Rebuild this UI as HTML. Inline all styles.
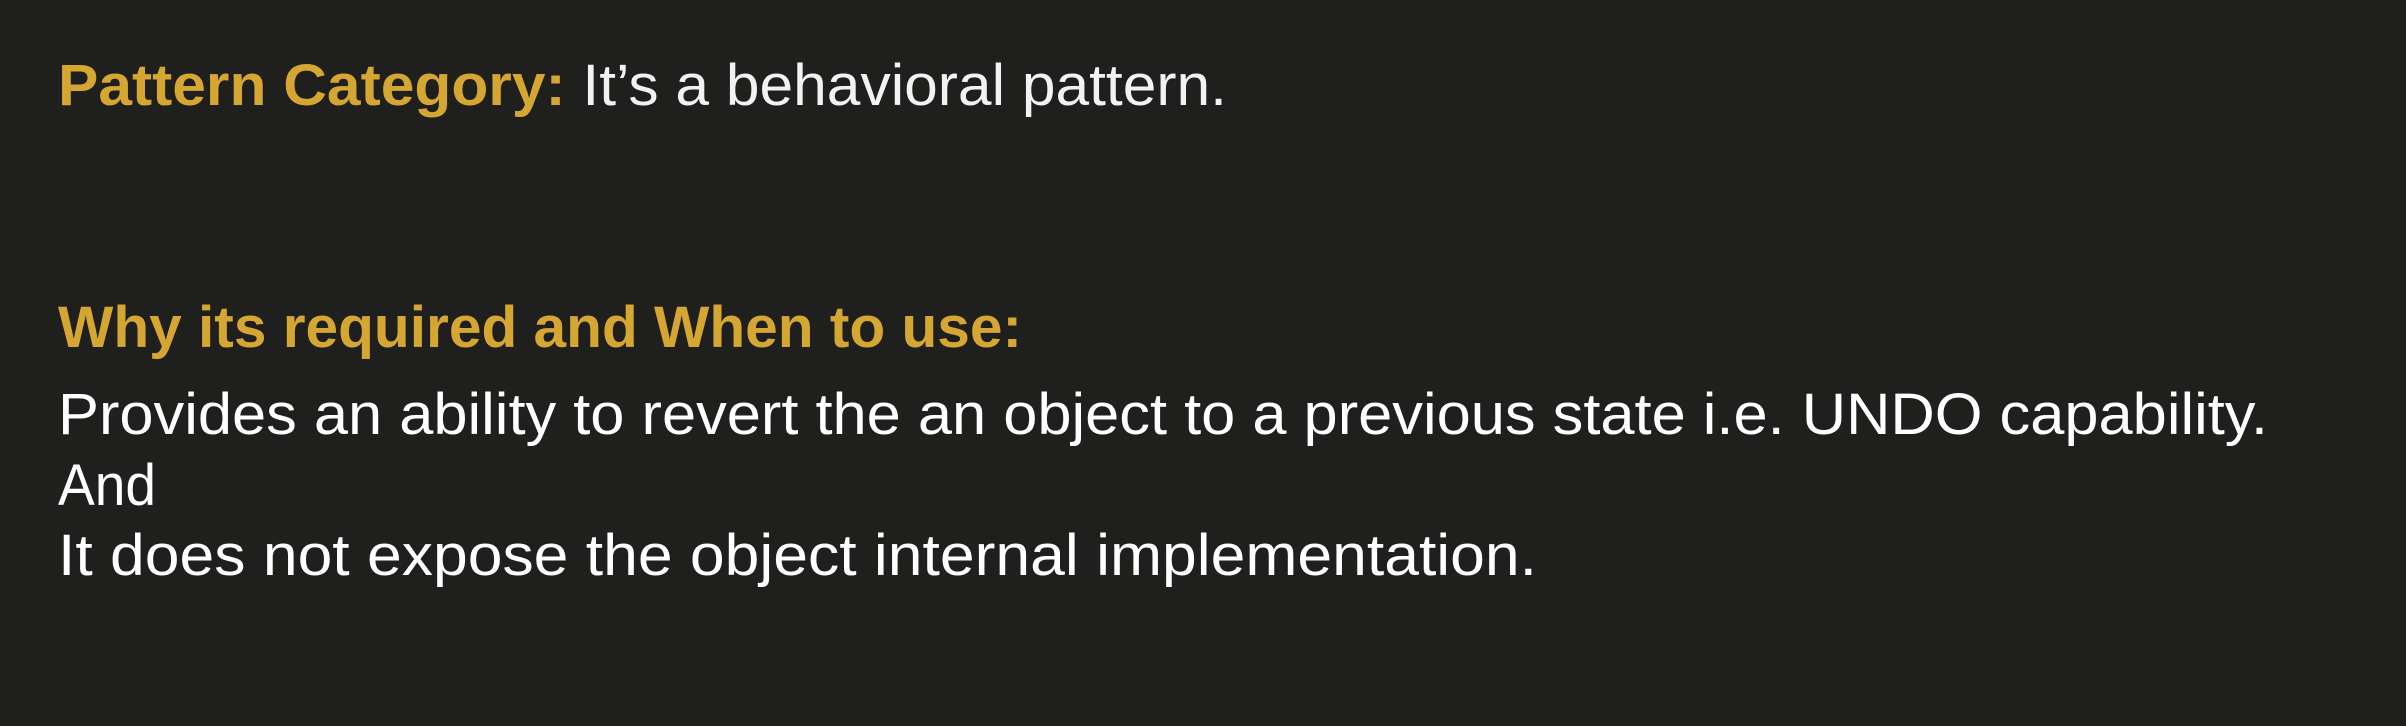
<!DOCTYPE html>
<html><head><style>
html,body{margin:0;padding:0;background:#1f1f1e;}
svg{display:block}
text{font-family:"Liberation Sans",sans-serif;font-size:58px;}
</style></head><body>
<svg width="2406" height="726" xmlns="http://www.w3.org/2000/svg">
<rect width="2406" height="726" fill="#1f1f1e"/>
<text x="58" y="105" textLength="1169" lengthAdjust="spacingAndGlyphs"><tspan fill="#d5a732" font-weight="bold">Pattern Category:</tspan><tspan fill="#f2f2f2"> It’s a behavioral pattern.</tspan></text>
<text x="58" y="347" fill="#d5a732" font-weight="bold" textLength="964" lengthAdjust="spacingAndGlyphs">Why its required and When to use:</text>
<text x="58" y="434" fill="#ffffff" textLength="2210" lengthAdjust="spacingAndGlyphs">Provides an ability to revert the an object to a previous state i.e. UNDO capability.</text>
<text x="58" y="505" fill="#ffffff" textLength="98" lengthAdjust="spacingAndGlyphs">And</text>
<text x="58" y="575" fill="#ffffff" textLength="1479" lengthAdjust="spacingAndGlyphs">It does not expose the object internal implementation.</text>
</svg>
</body></html>
